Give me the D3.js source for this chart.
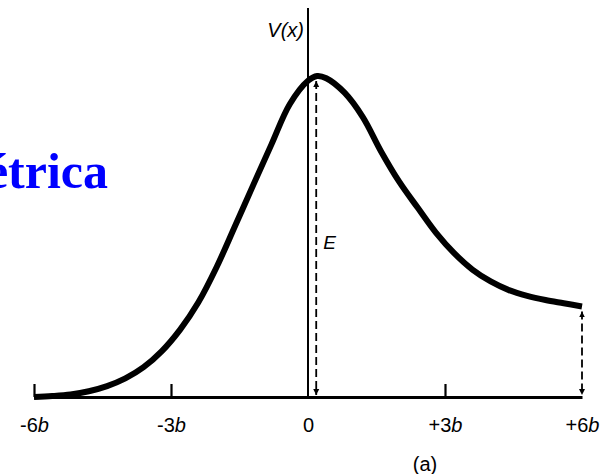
<!DOCTYPE html>
<html>
<head>
<meta charset="utf-8">
<script src="https://cdn.jsdelivr.net/npm/d3@7"></script>
<style>
  html, body { margin: 0; padding: 0; background: #fff; }
  svg { display: block; }
</style>
</head>
<body>
<svg id="chart" width="601" height="474"></svg>
<script>
// Potential barrier V(x) in units of the barrier height, x in units of b
const xPos = [-6.0, -5.6, -5.2, -4.8, -4.4, -4.0, -3.6, -3.2, -2.8, -2.4, -2.0, -1.6, -1.2, -0.8, -0.4, 0.0, 0.2, 0.4, 0.8, 1.2, 1.6, 2.0, 2.4, 2.8, 3.2, 3.6, 4.0, 4.4, 4.8, 5.2, 5.6, 6.0];
const vVal = [0.0, 0.003, 0.008, 0.018, 0.034, 0.058, 0.093, 0.143, 0.21, 0.295, 0.405, 0.532, 0.66, 0.787, 0.912, 0.985, 1.0, 0.993, 0.948, 0.872, 0.765, 0.67, 0.59, 0.512, 0.448, 0.397, 0.36, 0.333, 0.315, 0.302, 0.292, 0.282];
const tickVals = [-6, -3, 0, 3, 6];
const tickNums = ["-6", "-3", "0", "+3", "+6"];
const peakX = 0.18;   // where the energy arrow E stands
const endX = 6;       // right-hand drop arrow

const svg = d3.select("#chart");
const x = d3.scaleLinear().domain([-6, 6]).range([34, 582]);
const y = d3.scaleLinear().domain([0, 1]).range([397, 76]);

const sans = "'Liberation Sans', Arial, sans-serif";

// arrowheads
const defs = svg.append("defs");
function marker(id, orient) {
  defs.append("marker")
    .attr("id", id).attr("viewBox", "0 0 10 10")
    .attr("refX", 10).attr("refY", 5)
    .attr("markerWidth", 6).attr("markerHeight", 9)
    .attr("markerUnits", "userSpaceOnUse")
    .attr("orient", orient)
    .append("path").attr("d", "M0,0 L10,5 L0,10 Z").attr("fill", "#000");
}
marker("head", "auto");
marker("tail", "auto-start-reverse");

// title fragment on the left
svg.append("text")
  .attr("x", 108).attr("y", 188)
  .attr("text-anchor", "end")
  .attr("font-family", "'Liberation Serif', 'Times New Roman', serif")
  .attr("font-weight", "bold")
  .attr("font-size", 50)
  .attr("fill", "#0000ff")
  .text("étrica");

// bottom axis, ticks pointing up
const axis = d3.axisBottom(x)
  .tickValues(tickVals)
  .tickSizeInner(-13)
  .tickSizeOuter(0)
  .tickPadding(21)
  .tickFormat((d, i) => tickNums[i]);

const gAxis = svg.append("g").attr("transform", `translate(0,${y(0)})`).call(axis);
gAxis.select(".domain").attr("stroke", "#000").attr("stroke-width", 3);
gAxis.selectAll(".tick line").attr("stroke", "#000").attr("stroke-width", 2.2)
  .filter(d => d === 6 || d === 0).remove();
gAxis.selectAll(".tick text")
  .attr("font-family", sans)
  .attr("font-size", 20)
  .attr("fill", "#000")
  .each(function(d, i) {
    const t = d3.select(this);
    t.text(null);
    t.append("tspan").text(tickNums[i]);
    if (d !== 0) t.append("tspan").attr("font-style", "italic").text("b");
  });

// vertical axis at x = 0
svg.append("line")
  .attr("x1", x(0)).attr("x2", x(0))
  .attr("y1", 8).attr("y2", y(0))
  .attr("stroke", "#000").attr("stroke-width", 2);

svg.append("text")
  .attr("x", x(0) - 4).attr("y", 37)
  .attr("text-anchor", "end")
  .attr("font-family", sans)
  .attr("font-style", "italic")
  .attr("font-size", 20)
  .text("V(x)");

// the barrier curve
const pts = xPos.map((d, i) => [d, vVal[i]]);
svg.append("path")
  .datum(pts)
  .attr("fill", "none")
  .attr("stroke", "#000")
  .attr("stroke-width", 6)
  .attr("stroke-linejoin", "round")
  .attr("d", d3.line().x(d => x(d[0])).y(d => y(d[1])).curve(d3.curveCatmullRom.alpha(0.5)));

// dashed double-headed arrows
function dashedArrow(xv, vTop) {
  svg.append("line")
    .attr("x1", x(xv)).attr("x2", x(xv))
    .attr("y1", y(vTop) + 5).attr("y2", y(0) - 2)
    .attr("stroke", "#000").attr("stroke-width", 1.8)
    .attr("stroke-dasharray", "8,4")
    .attr("marker-start", "url(#tail)")
    .attr("marker-end", "url(#head)");
}
dashedArrow(peakX, 1.0);
dashedArrow(endX, vVal[vVal.length - 1]);

svg.append("text")
  .attr("x", x(peakX) + 7).attr("y", 249)
  .attr("font-family", sans)
  .attr("font-style", "italic")
  .attr("font-size", 19)
  .text("E");

svg.append("text")
  .attr("x", 425).attr("y", 471)
  .attr("text-anchor", "middle")
  .attr("font-family", sans)
  .attr("font-size", 20)
  .text("(a)");
</script>
</body>
</html>
